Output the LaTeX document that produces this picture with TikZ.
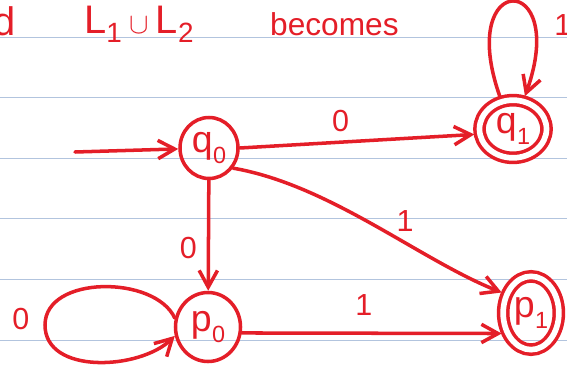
\documentclass[tikz,border=0pt]{standalone}
\usepackage{fontspec}
\setmainfont{Liberation Sans}
\usetikzlibrary{shapes.geometric,arrows.meta}
\definecolor{ink}{RGB}{228,30,40}
\definecolor{ruling}{RGB}{178,196,222}
\newcommand{\stlab}[2]{#1\kern0.5pt\raisebox{-0.3em}{\fontsize{20}{20}\selectfont #2}}

\begin{document}
\begin{tikzpicture}[
    x=0.03cm, y=-0.03cm,
    state/.style={ellipse, draw=ink, line width=3pt, inner sep=0pt, text=ink, font=\fontsize{32}{32}\selectfont},
    accept/.style={state, double=white, double distance=0.17cm, outer sep=0.17cm},
    elabel/.style={text=ink, font=\fontsize{26}{26}\selectfont},
    title/.style={text=ink, inner sep=0pt, anchor=base west},
    arrow/.style={-{Straight Barb[length=5mm, width=5.5mm]}, ink, line width=3pt, line cap=round},
    paperline/.style={ruling, line width=0.8pt},
]

\useasboundingbox (0,0) rectangle (567,365);

% ====== Paper rules ======
\foreach \ry in {37,97,158,218,279,340}
    \draw[paperline] (0,\ry) -- (567,\ry);

% ====== Heading ======
\node[title, anchor=base east, font=\fontsize{34}{34}\selectfont] (hd) at (16,35) {d};
\node[title, font=\fontsize{34}{34}\selectfont] (hunion) at (84,33) {L\textsubscript{1}\hspace{6pt}$\cup$\hspace{6pt}L\textsubscript{2}};
\node[title, font=\fontsize{27}{27}\selectfont] (hbecomes) at (270,35) {becomes};

% ====== States ======
\node[state, minimum width=1.74cm, minimum height=1.83cm] (q0) at (209,148) {\stlab{q}{0}};
\node[accept, minimum width=2.01cm, minimum height=1.73cm] (q1) at (513,129) {\stlab{q}{1}};
\node[state, minimum width=1.95cm, minimum height=2.07cm] (p0) at (208,327) {\stlab{p}{0}};
\node[accept, minimum width=1.67cm, minimum height=2.2cm] (p1) at (531,313) {\stlab{p}{1}};

% ====== Transitions ======
\coordinate (start) at (75,152);
\draw[arrow] (start) -- (q0);
\draw[arrow] (q0.east) -- node[elabel, pos=0.43, above=0.15cm] {0} (q1.188);
\draw[arrow] (q0.-40) .. controls (330,185) and (420,260) .. node[elabel, pos=0.62, above=0.15cm] {1} (p1.145);
\draw[arrow] (q0) -- node[elabel, pos=0.61, left=0.18cm] {0} (p0);
\draw[arrow] (p0.-10) -- node[elabel, pos=0.47, above=0.35cm] {1} (p1.215);

% ====== Loops ======
\draw[arrow] (p0.165) .. controls (155,275) and (45,275) .. (45,325) node[elabel, left=0.3cm, yshift=5pt] {0}
    .. controls (45,375) and (140,370) .. (p0.195);
\draw[arrow] (q1.112) .. controls (455,-30) and (570,-30) .. node[elabel, pos=0.75, right=0.45cm] {1} (q1.70);

\end{tikzpicture}
\end{document}
